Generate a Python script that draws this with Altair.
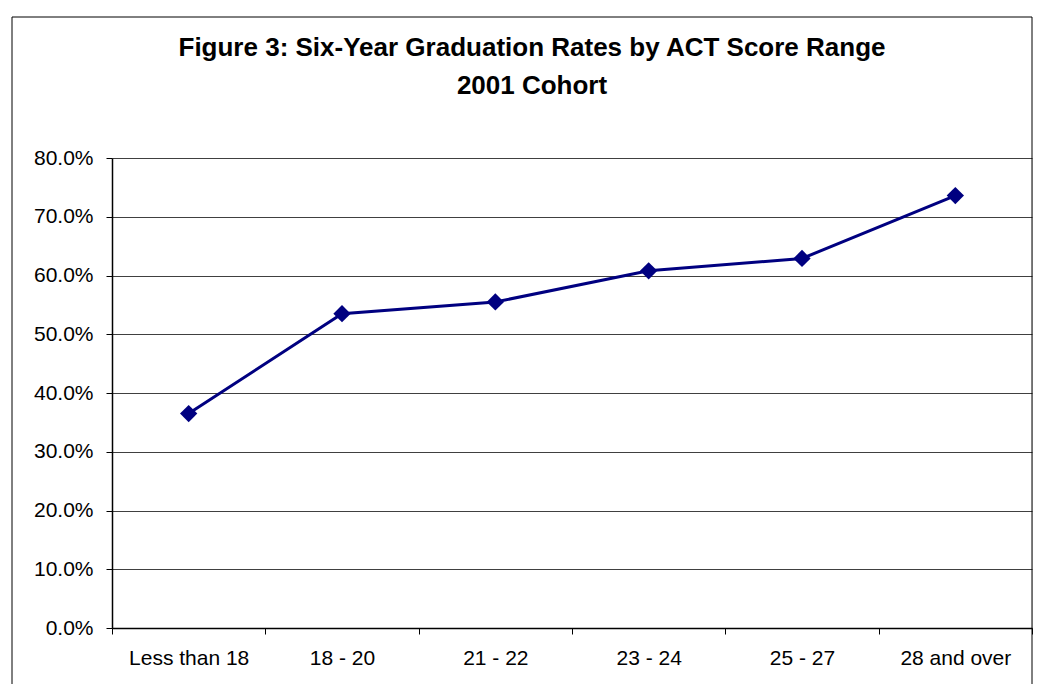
import altair as alt
import pandas as pd

categories = ["Less than 18", "18 - 20", "21 - 22", "23 - 24", "25 - 27", "28 and over"]
rates = [0.365, 0.535, 0.555, 0.608, 0.629, 0.736]
y_ticks = [0.0, 0.1, 0.2, 0.3, 0.4, 0.5, 0.6, 0.7, 0.8]
title_lines = ["Figure 3: Six-Year Graduation Rates by ACT Score Range", "2001 Cohort"]

df = pd.DataFrame({"range": categories, "rate": rates})

W, H = 920, 470
FONT = "Liberation Sans"
NAVY = "#000080"

x_enc = alt.X(
    "range:N",
    sort=categories,
    bandPosition=0.5,
    scale=alt.Scale(type="band", paddingInner=0, paddingOuter=0),
    axis=alt.Axis(
        title=None, labelAngle=0, tickBand="extent", labelFont=FONT,
        labelFontSize=21, labelColor="black", tickColor="black", tickSize=6,
        labelPadding=13, domainColor="black", domainWidth=1.5, grid=False,
    ),
)
y_enc = alt.Y(
    "rate:Q",
    scale=alt.Scale(domain=[0, 0.8], nice=False),
    axis=alt.Axis(
        title=None, format=".1%", values=y_ticks, labelFont=FONT,
        labelFontSize=21, labelColor="black", tickColor="black", tickSize=6,
        labelPadding=13, domainColor="black", domainWidth=1.5,
        grid=True, gridColor="#404040", gridWidth=1,
    ),
)

line = alt.Chart(df).mark_line(color=NAVY, strokeWidth=3).encode(x=x_enc, y=y_enc)
pts = alt.Chart(df).mark_point(shape="diamond", filled=True, size=300, color=NAVY, opacity=1).encode(x=x_enc, y=y_enc)
frame = alt.Chart(pd.DataFrame({"f": [0]})).mark_rect(
    fillOpacity=0, stroke="black", strokeWidth=1
).encode(x=alt.value(-100), x2=alt.value(W), y=alt.value(-141), y2=alt.value(H + 200))

chart = alt.layer(frame, line, pts).properties(
    width=W,
    height=H,
    title=alt.TitleParams(
        text=title_lines, font=FONT, fontSize=26, fontWeight="bold", color="black",
        anchor="middle", frame="group", dx=-40, lineHeight=38, offset=-103, baseline="alphabetic",
    ),
    padding={"left": 104, "top": 150, "right": 1, "bottom": 56},
    autosize=alt.AutoSizeParams(type="none"),
).configure_view(stroke=None).configure(background="white")

chart.save("out.html", embed_options={"renderer": "svg", "actions": False})
